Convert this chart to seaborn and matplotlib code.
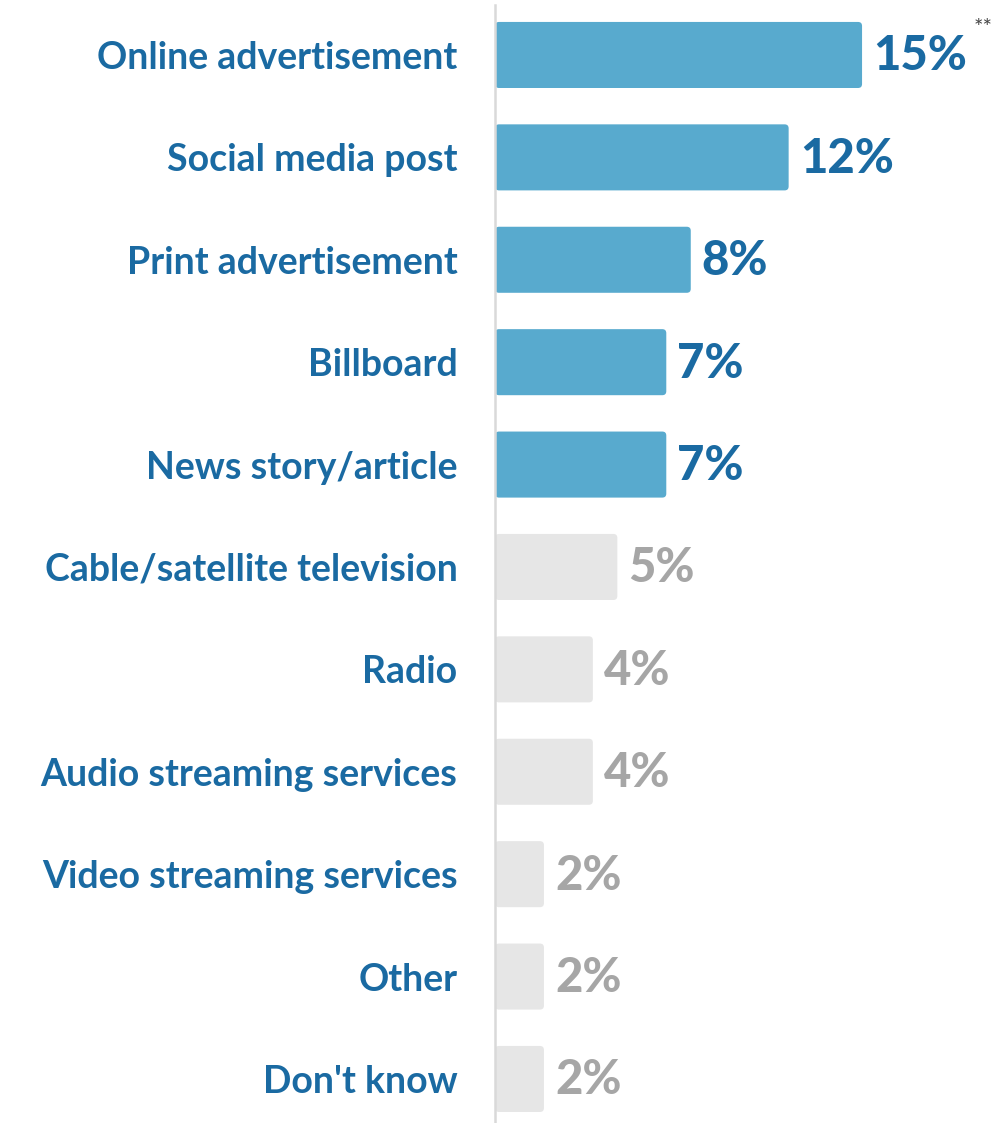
import matplotlib
matplotlib.use("Agg")
import matplotlib.pyplot as plt
from matplotlib.patches import FancyBboxPatch
import seaborn as sns
import pandas as pd

categories = [
    "Online advertisement",
    "Social media post",
    "Print advertisement",
    "Billboard",
    "News story/article",
    "Cable/satellite television",
    "Radio",
    "Audio streaming services",
    "Video streaming services",
    "Other",
    "Don't know",
]
values = [15, 12, 8, 7, 7, 5, 4, 4, 2, 2, 2]
highlighted = [True, True, True, True, True, False, False, False, False, False, False]

BAR_BLUE = "#58AACE"
TEXT_BLUE = "#1A6AA2"
BAR_GRAY = "#E6E6E6"
TEXT_GRAY = "#A6A6A6"

sns.set_theme(style="white")
plt.rcParams["font.family"] = ["Lato", "DejaVu Sans"]

df = pd.DataFrame({"category": categories, "value": values})
bar_colors = [BAR_BLUE if h else BAR_GRAY for h in highlighted]

fig = plt.figure(figsize=(10.06, 11.23), dpi=100)
ax = fig.add_axes([495 / 1006, 0.0, 1 - 495 / 1006, 1 - 5 / 1123])

sns.barplot(data=df, y="category", x="value", hue="category", palette=bar_colors,
            legend=False, width=0.645, ax=ax, saturation=1)

ax.set_xlim(0, (1006 - 495) / 24.47)
ax.set_ylim(10.43, -0.488)

# swap square bars for softly rounded ones
px_x = 24.47
px_y = 102.4
for patch in list(ax.patches):
    x0, y0 = patch.get_x(), patch.get_y()
    w, h = patch.get_width(), patch.get_height()
    fc = patch.get_facecolor()
    patch.remove()
    rounded = FancyBboxPatch((x0, y0), w, h,
                             boxstyle=f"round,pad=0,rounding_size={4 / px_x}",
                             mutation_aspect=px_x / px_y,
                             facecolor=fc, edgecolor="none", zorder=2)
    ax.add_patch(rounded)

# value labels at the end of each bar
for i, (v, h) in enumerate(zip(values, highlighted)):
    ax.annotate(f"{v}%", xy=(v, i), xytext=(8, -1), textcoords="offset points",
                ha="left", va="center", fontsize=34, fontweight="black",
                color=TEXT_BLUE if h else TEXT_GRAY)

ax.set_xlabel("")
ax.set_ylabel("")
ax.set_xticks([])
ax.set_yticks(range(len(categories)))
ax.set_yticklabels(categories, fontsize=27, fontweight="bold", color=TEXT_BLUE)
ax.tick_params(axis="y", length=0, pad=27)

for side in ["top", "right", "bottom"]:
    ax.spines[side].set_visible(False)
ax.spines["left"].set_color("#D9D9D9")
ax.spines["left"].set_linewidth(1.8)
ax.spines["left"].set_zorder(3)

fig.text(983 / 1006, 1 - 28 / 1123, "**", ha="center", va="center",
         fontsize=16, color="#444444")

fig.savefig("out.png", dpi=100, facecolor="white")
